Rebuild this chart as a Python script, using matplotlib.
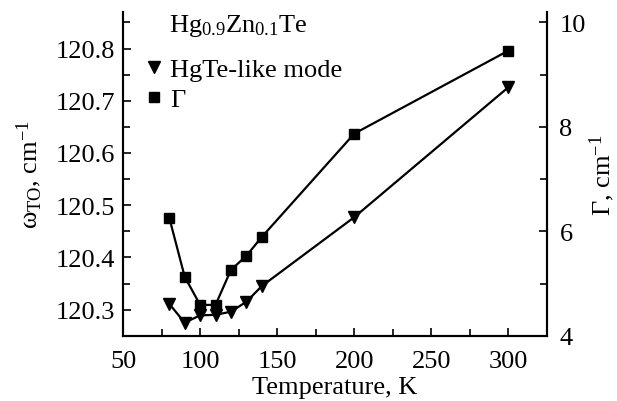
import matplotlib
matplotlib.use("Agg")
import matplotlib.pyplot as plt
from matplotlib.ticker import MultipleLocator
from matplotlib.lines import Line2D

plt.rcParams['font.family'] = ['Liberation Serif', 'DejaVu Serif']
plt.rcParams['mathtext.fontset'] = 'custom'
plt.rcParams['mathtext.rm'] = 'Liberation Serif'
plt.rcParams['mathtext.it'] = 'Liberation Serif:italic'

temperature = [80, 90, 100, 110, 120, 130, 140, 200, 300]
omega_to = [120.311, 120.275, 120.289, 120.290, 120.296, 120.315, 120.345, 120.477, 120.726]
gamma = [6.26, 5.13, 4.59, 4.59, 5.26, 5.53, 5.89, 7.87, 9.46]

xticks = [50, 100, 150, 200, 250, 300]
left_ticks = [120.3, 120.4, 120.5, 120.6, 120.7, 120.8]
right_ticks = [4, 6, 8, 10]

fs = 19
fig = plt.figure(figsize=(6.17, 4.02), dpi=100)
ax = fig.add_axes([0.1994, 0.1624, 0.6871, 0.8053])
ax2 = ax.twinx()

ax.plot(temperature, omega_to, color='black', lw=1.6, marker='v', ms=8, mfc='black', mec='black')
ax2.plot(temperature, gamma, color='black', lw=1.6, marker='s', ms=7, mfc='black', mec='black')

ax.set_xlim(50, 325)
ax.set_ylim(120.25, 120.87)
ax2.set_ylim(4, 10.2)

ax.set_xticks(xticks)
ax.set_yticks(left_ticks)
ax.set_yticklabels([f"{v:.1f}" for v in left_ticks])
ax2.set_yticks(right_ticks)
ax.xaxis.set_minor_locator(MultipleLocator(25))
ax.yaxis.set_minor_locator(MultipleLocator(0.05))
ax2.yaxis.set_minor_locator(MultipleLocator(1))

for a in (ax, ax2):
    for s in a.spines.values():
        s.set_linewidth(1.5)
ax.spines['top'].set_visible(False)
ax2.spines['top'].set_visible(False)

ax.tick_params(axis='both', which='major', direction='in', length=6, width=1.2, labelsize=fs)
ax.tick_params(axis='both', which='minor', direction='in', length=5, width=1.2)
ax.tick_params(axis='x', which='both', top=False)
ax.tick_params(axis='x', which='major', pad=10)
ax.tick_params(axis='y', which='major', pad=6)
ax2.tick_params(axis='y', which='major', direction='in', length=6, width=1.2, labelsize=fs, pad=9)
ax2.tick_params(axis='y', which='minor', direction='in', length=5, width=1.2)

ax.set_xlabel('Temperature, K', fontsize=fs, labelpad=3)
ax.set_ylabel('ω$_{\\rm TO}$, cm$^{-1}$', fontsize=fs, labelpad=8)
ax2.set_ylabel('Γ, cm$^{-1}$', fontsize=fs, rotation=90, labelpad=1)

ax.text(0.108, 0.94, r'Hg$_{0.9}$Zn$_{0.1}$Te', transform=ax.transAxes, fontsize=fs, va='baseline', ha='left')
handles = [Line2D([], [], ls='none', marker='v', color='black', ms=8),
           Line2D([], [], ls='none', marker='s', color='black', ms=7)]
leg = ax.legend(handles, ['HgTe-like mode', 'Γ'], loc='upper left',
                bbox_to_anchor=(0.048, 0.86), frameon=False, fontsize=fs, borderpad=0,
                handlelength=0.8, handletextpad=0.2, borderaxespad=0, labelspacing=0.25)

fig.savefig('out.png', dpi=100)
